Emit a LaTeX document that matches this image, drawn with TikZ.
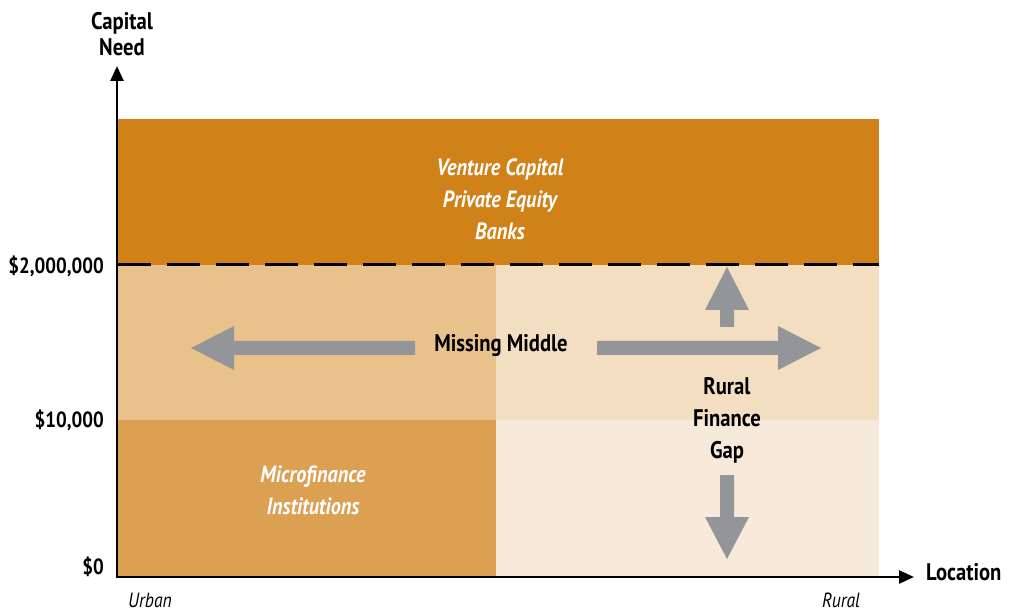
\documentclass[tikz,border=0pt]{standalone}
\usepackage{fontspec}
\setmainfont[FakeStretch=0.86]{PT Sans}
\usetikzlibrary{arrows.meta}
\definecolor{topc}{HTML}{D08117}
\definecolor{midl}{HTML}{E9C28B}
\definecolor{midr}{HTML}{F3DEC1}
\definecolor{botl}{HTML}{DCA052}
\definecolor{botr}{HTML}{F7EADA}
\definecolor{arrc}{HTML}{939598}
\tikzset{
  axislabel/.style={font=\fontsize{24}{28}\selectfont\bfseries, text=black, inner sep=0pt},
  ticklabel/.style={font=\fontsize{22}{26}\selectfont\bfseries, text=black, anchor=east, inner sep=0pt},
  boxtext/.style={font=\fontsize{23.5}{32}\selectfont\bfseries\itshape, text=white, align=center, inner sep=0pt},
  gaptext/.style={font=\fontsize{24}{32}\selectfont\bfseries, text=black, align=center, inner sep=0pt},
  endlabel/.style={font=\fontsize{20.5}{22}\selectfont\itshape, text=black, inner sep=0pt},
  blockarrow/.style={fill=arrc, draw=none},
  axis/.style={line width=2.6pt, -{Triangle[length=15pt,width=13pt]}}
}
\begin{document}
\begin{tikzpicture}[x=1pt,y=-1pt]
\useasboundingbox (0,0) rectangle (1010,612);
% bands
\fill[topc] (118,119) rectangle (879,265);
\fill[midl] (118,265) rectangle (496,420);
\fill[midr] (496,265) rectangle (879,420);
\fill[botl] (118,420) rectangle (496,577);
\fill[botr] (496,420) rectangle (879,577);
% dashed line
\draw[line width=3pt, dash pattern=on 33pt off 16pt] (118,265) -- (879,265);
% axes
\coordinate (O) at (117,577);
\coordinate (Ytip) at (117,66);
\coordinate (Xtip) at (914,577);
\draw[axis] ([yshift=-1.3pt]O) -- (Ytip);
\draw[axis] ([xshift=-1.3pt]O) -- (Xtip);
% axis labels
\node[axislabel, align=center] (capneed) at (122,34) {Capital\\[-2pt]Need};
\node[axislabel, anchor=west] (loc) at (926,572) {Location};
\node[ticklabel] (t2m) at (104,266) {\$2,000,000};
\node[ticklabel] (t10k) at (104,420) {\$10,000};
\node[ticklabel] (t0) at (104,567) {\$0};
\node[endlabel, anchor=base] (urban) at (150,607) {Urban};
\node[endlabel, anchor=base] (rural) at (841,607) {Rural};
% box texts
\node[boxtext] (vc) at (500,199) {Venture Capital\\Private Equity\\Banks};
\node[boxtext] (mfi) at (313,490) {Microfinance\\Institutions};
\node[gaptext] (mm) at (501,346) {Missing Middle};
\node[gaptext] (rfg) at (727,420) {Rural\\Finance\\Gap};
% block arrows
\fill[blockarrow] (415,341) -- (234,341) -- (234,326) -- (191,348) -- (234,370) -- (234,355) -- (415,355) -- cycle;
\fill[blockarrow] (597,341) -- (778,341) -- (778,326) -- (821,348) -- (778,370) -- (778,355) -- (597,355) -- cycle;
\fill[blockarrow] (720,327) -- (720,310) -- (705,310) -- (727,267) -- (749,310) -- (734,310) -- (734,327) -- cycle;
\fill[blockarrow] (720,475) -- (720,517) -- (705,517) -- (727,559) -- (749,517) -- (734,517) -- (734,475) -- cycle;
\end{tikzpicture}
\end{document}
